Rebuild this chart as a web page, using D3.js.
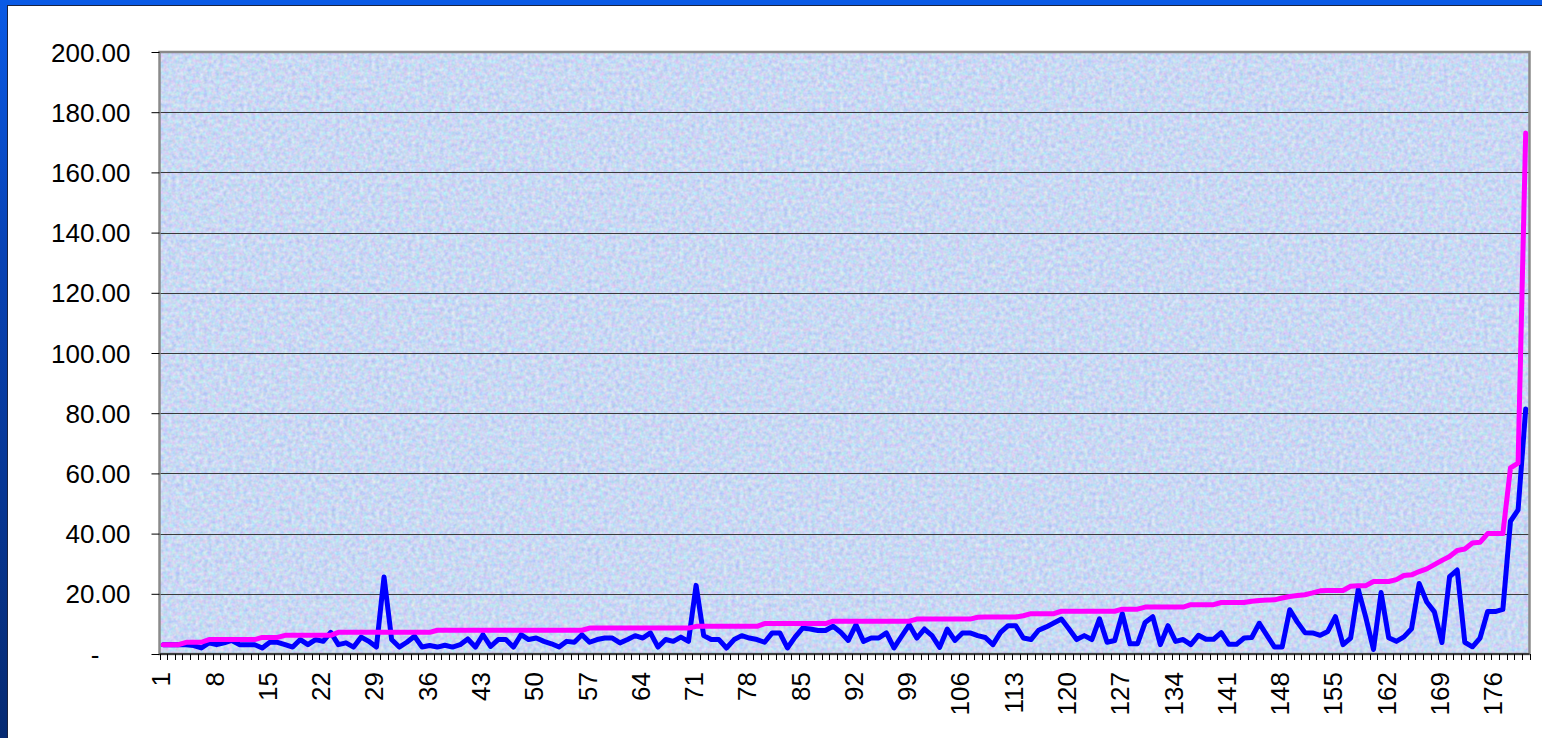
<!DOCTYPE html>
<html>
<head>
<meta charset="utf-8">
<script src="https://cdn.jsdelivr.net/npm/d3@7"></script>
<style>
html,body{margin:0;padding:0;background:#fff;overflow:hidden}
svg{display:block}
</style>
</head>
<body>
<svg id="chart" width="1542" height="738"></svg>
<script>
// ---------- DATA ----------
const categories = d3.range(1, 181);

const seriesBlue = [
  3.1, 3.1, 3.1, 3.1, 2.8, 2.0, 3.7, 3.1, 3.7, 4.5,
  3.1, 3.1, 3.1, 2.0, 3.9, 3.9, 3.1, 2.3, 4.8, 3.1,
  4.8, 4.2, 7.2, 3.1, 3.7, 2.3, 5.6, 4.2, 2.3, 25.6,
  4.8, 2.3, 3.9, 5.9, 2.3, 2.8, 2.3, 2.9, 2.3, 3.1,
  5.0, 2.3, 6.4, 2.5, 4.8, 4.8, 2.3, 6.4, 4.8, 5.3,
  4.2, 3.4, 2.3, 4.2, 3.9, 6.4, 3.9, 4.8, 5.3, 5.3,
  3.7, 4.8, 6.1, 5.3, 7.0, 2.3, 4.8, 4.2, 5.6, 4.2,
  22.8, 6.1, 4.8, 4.8, 2.0, 4.8, 6.1, 5.3, 4.8, 3.9,
  7.0, 7.0, 2.0, 5.6, 8.6, 8.3, 7.8, 7.8, 9.2, 7.2,
  4.5, 9.7, 4.2, 5.3, 5.3, 7.0, 2.0, 5.9, 9.7, 5.3,
  8.3, 6.1, 2.2, 8.3, 4.5, 7.0, 7.0, 6.1, 5.5, 3.1,
  7.2, 9.4, 9.4, 5.3, 4.8, 7.9, 9.0, 10.3, 11.6, 8.3,
  4.8, 6.1, 4.8, 11.7, 3.9, 4.5, 13.4, 3.4, 3.4, 10.5,
  12.4, 3.1, 9.4, 4.2, 4.8, 3.1, 6.2, 4.9, 4.9, 7.1,
  3.2, 3.2, 5.3, 5.5, 10.2, 6.2, 2.3, 2.3, 14.7, 10.6,
  7.1, 7.0, 6.2, 7.5, 12.4, 3.1, 5.3, 21.5, 12.1, 1.5,
  20.4, 5.4, 4.2, 5.7, 8.4, 23.4, 17.3, 14.0, 3.8, 25.7,
  27.9, 3.9, 2.4, 5.3, 14.1, 14.1, 14.8, 44.1, 47.9, 81.4
];

const seriesMagenta = [
  3.1, 3.1, 3.1, 3.9, 3.9, 3.9, 4.8, 4.8, 4.8, 4.8,
  4.8, 4.8, 4.8, 5.5, 5.5, 5.5, 6.2, 6.2, 6.2, 6.2,
  6.2, 6.2, 6.2, 7.2, 7.2, 7.2, 7.2, 7.2, 7.2, 7.2,
  7.2, 7.2, 7.2, 7.2, 7.2, 7.2, 7.9, 7.9, 7.9, 7.9,
  7.9, 7.9, 7.9, 7.9, 7.9, 7.9, 7.9, 7.9, 7.9, 7.9,
  7.9, 7.9, 7.9, 7.9, 7.9, 7.9, 8.6, 8.6, 8.6, 8.6,
  8.6, 8.6, 8.6, 8.6, 8.6, 8.6, 8.6, 8.6, 8.6, 8.6,
  9.2, 9.2, 9.2, 9.2, 9.2, 9.2, 9.2, 9.2, 9.2, 10.1,
  10.1, 10.1, 10.1, 10.1, 10.1, 10.1, 10.1, 10.1, 10.9, 10.9,
  10.9, 10.9, 10.9, 10.9, 10.9, 10.9, 10.9, 10.9, 10.9, 11.6,
  11.6, 11.6, 11.6, 11.6, 11.6, 11.6, 11.6, 12.2, 12.3, 12.3,
  12.3, 12.3, 12.3, 12.7, 13.4, 13.4, 13.4, 13.4, 14.2, 14.2,
  14.2, 14.2, 14.2, 14.2, 14.2, 14.2, 14.9, 14.9, 14.9, 15.6,
  15.6, 15.6, 15.6, 15.6, 15.6, 16.4, 16.4, 16.4, 16.4, 17.1,
  17.1, 17.1, 17.1, 17.5, 17.8, 17.9, 18.0, 18.6, 19.1, 19.4,
  19.7, 20.3, 21.0, 21.1, 21.1, 21.1, 22.5, 22.7, 22.7, 24.1,
  24.1, 24.1, 24.7, 26.1, 26.3, 27.4, 28.3, 29.7, 31.1, 32.4,
  34.4, 34.9, 36.9, 37.1, 40.0, 40.0, 40.0, 61.8, 63.4, 173.1
];

const yTickValues = [0, 20, 40, 60, 80, 100, 120, 140, 160, 180, 200];
const xTickLabels = [1, 8, 15, 22, 29, 36, 43, 50, 57, 64, 71, 78, 85, 92, 99,
                     106, 113, 120, 127, 134, 141, 148, 155, 162, 169, 176];

// ---------- LAYOUT ----------
const W = 1542, H = 738;
const plot = { left: 159.5, right: 1529.5, top: 52, bottom: 654 };
const FONT = '"Liberation Sans", Arial, Helvetica, sans-serif';

const svg = d3.select('#chart');
const defs = svg.append('defs');

const lg = defs.append('linearGradient').attr('id', 'leftBand')
  .attr('x1', 0).attr('y1', 0).attr('x2', 0).attr('y2', 1);
lg.append('stop').attr('offset', '0%').attr('stop-color', '#0a5ae6');
lg.append('stop').attr('offset', '35%').attr('stop-color', '#0842b4');
lg.append('stop').attr('offset', '100%').attr('stop-color', '#062a72');

const filt = defs.append('filter').attr('id', 'tex')
  .attr('x', 0).attr('y', 0).attr('width', '100%').attr('height', '100%')
  .attr('color-interpolation-filters', 'sRGB');
filt.append('feTurbulence').attr('type', 'fractalNoise')
  .attr('baseFrequency', 0.25).attr('numOctaves', 2).attr('seed', 5);
filt.append('feColorMatrix').attr('type', 'matrix').attr('values',
  '0.36 0 0 0 0.61  0 0.30 0 0 0.70  0 0 0.16 0 0.875  0 0 0 0 1');

// background / frame
svg.append('rect').attr('width', W).attr('height', H).attr('fill', '#ffffff');
svg.append('rect').attr('x', 0).attr('y', 0).attr('width', W).attr('height', 5).attr('fill', '#0a5ae6');
svg.append('rect').attr('x', 0).attr('y', 0).attr('width', 7).attr('height', H).attr('fill', 'url(#leftBand)');
svg.append('line').attr('x1', 7).attr('x2', W).attr('y1', 5.5).attr('y2', 5.5)
  .attr('stroke', '#1a2340').attr('stroke-width', 1);
svg.append('line').attr('x1', 7.5).attr('x2', 7.5).attr('y1', 5).attr('y2', H)
  .attr('stroke', '#1a2340').attr('stroke-width', 1);

// scales
const x = d3.scaleBand().domain(categories).range([plot.left, plot.right]).padding(0);
const y = d3.scaleLinear().domain([0, 200]).range([plot.bottom, plot.top]);

// plot area background
svg.append('rect')
  .attr('x', plot.left).attr('y', plot.top)
  .attr('width', plot.right - plot.left).attr('height', plot.bottom - plot.top)
  .attr('fill', '#c9d8f3');
svg.append('rect')
  .attr('x', plot.left).attr('y', plot.top)
  .attr('width', plot.right - plot.left).attr('height', plot.bottom - plot.top)
  .attr('filter', 'url(#tex)').attr('opacity', 0.9);

// gridlines
svg.append('g').selectAll('line')
  .data(yTickValues.filter(v => v > 0 && v < 200))
  .join('line')
  .attr('x1', plot.left).attr('x2', plot.right)
  .attr('y1', d => Math.round(y(d)) + 0.5).attr('y2', d => Math.round(y(d)) + 0.5)
  .attr('stroke', '#3a3a3a').attr('stroke-width', 1)
  .attr('shape-rendering', 'crispEdges');

// plot border
svg.append('rect')
  .attr('x', plot.left).attr('y', plot.top)
  .attr('width', plot.right - plot.left).attr('height', plot.bottom - plot.top)
  .attr('fill', 'none').attr('stroke', '#8a8a8a').attr('stroke-width', 2.5);

// bottom axis line
svg.append('line').attr('x1', plot.left).attr('x2', plot.right)
  .attr('y1', plot.bottom).attr('y2', plot.bottom)
  .attr('stroke', '#222').attr('stroke-width', 1.5);

// Y axis
const yAxis = d3.axisLeft(y).tickValues(yTickValues).tickSize(8).tickPadding(21)
  .tickFormat(v => v === 0 ? '-' : d3.format('.2f')(v));
const gy = svg.append('g').attr('transform', `translate(${plot.left},0)`).call(yAxis);
gy.select('.domain').remove();
gy.selectAll('.tick line').attr('stroke', '#000').attr('stroke-width', 1);
gy.selectAll('.tick text')
  .attr('font-family', FONT).attr('font-size', 26).attr('fill', '#000')
  .attr('dy', null).attr('dominant-baseline', 'central');
gy.selectAll('.tick text').filter(d => d === 0)
  .attr('text-anchor', 'middle').attr('x', 95 - plot.left);

// X tick marks at category boundaries
const boundaries = categories.map(c => x(c)).concat([plot.right]);
svg.append('g').selectAll('line').data(boundaries).join('line')
  .attr('x1', d => Math.round(d) + 0.5).attr('x2', d => Math.round(d) + 0.5)
  .attr('y1', plot.bottom).attr('y2', plot.bottom + 6)
  .attr('stroke', '#000').attr('stroke-width', 1);

// X labels
const xAxis = d3.axisBottom(x).tickValues(xTickLabels).tickSize(0);
const gx = svg.append('g').attr('transform', `translate(0,${plot.bottom})`).call(xAxis);
gx.select('.domain').remove();
gx.selectAll('.tick text')
  .attr('font-family', FONT).attr('font-size', 26).attr('fill', '#000')
  .attr('x', 0).attr('y', 0).attr('dy', null)
  .attr('text-anchor', 'end').attr('dominant-baseline', 'central')
  .attr('transform', 'translate(-2,18) rotate(-90)');

// lines
const line = d3.line()
  .x((d, i) => x(categories[i]) + x.bandwidth() / 2)
  .y(d => y(d));

svg.append('path').datum(seriesBlue)
  .attr('d', line).attr('fill', 'none')
  .attr('stroke', '#0000ff').attr('stroke-width', 5)
  .attr('stroke-linejoin', 'round').attr('stroke-linecap', 'round');

svg.append('path').datum(seriesMagenta)
  .attr('d', line).attr('fill', 'none')
  .attr('stroke', '#ff00ff').attr('stroke-width', 5)
  .attr('stroke-linejoin', 'round').attr('stroke-linecap', 'round');
</script>
</body>
</html>
